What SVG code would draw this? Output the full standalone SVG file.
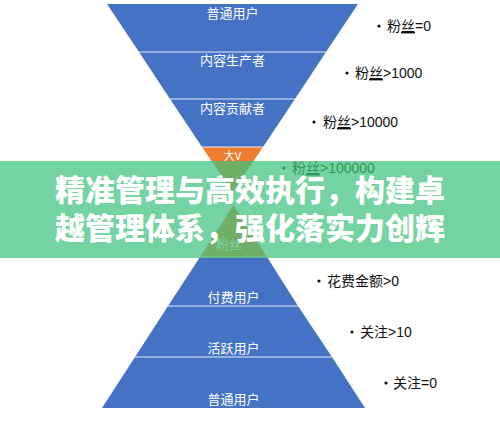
<svg xmlns="http://www.w3.org/2000/svg" width="500" height="421" viewBox="0 0 500 421">
  <style>
    .blue { fill: #4472C4; }
    .orange { fill: #ED7D31; }
    .div { stroke: #ffffff; stroke-width: 1.2; opacity: 0.85; }
    .lbl { font-family: "Noto Sans CJK SC", "Noto Sans", sans-serif; font-size: 13px; fill: #ffffff; text-anchor: middle; }
    .note { font-family: "Liberation Sans", "Noto Sans CJK SC", sans-serif; font-size: 14px; fill: #111111; }
    .dot { fill: #111111; }
    .banner { font-family: "Noto Sans CJK SC", "Noto Sans", sans-serif; font-size: 30px; font-weight: 900; fill: #ffffff; text-anchor: middle; }
  </style>
  <rect width="500" height="421" fill="#ffffff"/>

  <!-- Top funnel -->
  <g id="funnel-tier1">
    <polygon class="blue" points="107,4 358,4 326,52 139,52"/>
    <text class="lbl" x="232.5" y="18">普通用户</text>
  </g>
  <g id="funnel-tier2">
    <polygon class="blue" points="139,52 326,52 295,99 170,99"/>
    <text class="lbl" x="232.5" y="65">内容生产者</text>
  </g>
  <g id="funnel-tier3">
    <polygon class="blue" points="170,99 295,99 263,147 202,147"/>
    <text class="lbl" x="232.5" y="113">内容贡献者</text>
  </g>
  <g id="funnel-tier4">
    <polygon class="orange" points="202,147 263,147 232.5,192"/>
    <text class="lbl" x="232.5" y="160" style="font-size:11px">大V</text>
  </g>

  <!-- Bottom pyramid -->
  <g id="pyramid-tier0">
    <polygon class="orange" points="233.5,205 267,257 200,257"/>
    <text class="lbl" x="229" y="249">粉丝</text>
  </g>
  <g id="pyramid-tier1">
    <polygon class="blue" points="200,257 267,257 298,306 168,306"/>
    <text class="lbl" x="233.5" y="302">付费用户</text>
  </g>
  <g id="pyramid-tier2">
    <polygon class="blue" points="168,306 298,306 332,357 135,357"/>
    <text class="lbl" x="233.5" y="353">活跃用户</text>
  </g>
  <g id="pyramid-tier3">
    <polygon class="blue" points="135,357 332,357 365,408 102,408"/>
    <text class="lbl" x="233.5" y="404">普通用户</text>
  </g>

  <!-- Divider lines -->
  <g id="connectors">
    <line class="div" x1="139" y1="52" x2="326" y2="52"/>
    <line class="div" x1="170" y1="99" x2="295" y2="99"/>
    <line class="div" x1="202" y1="147" x2="263" y2="147"/>
    <line class="div" x1="200" y1="257" x2="267" y2="257"/>
    <line class="div" x1="168" y1="306" x2="298" y2="306"/>
    <line class="div" x1="135" y1="357" x2="332" y2="357"/>
  </g>

  <!-- Right-side notes -->
  <g id="note1">
    <circle class="dot" cx="379" cy="26" r="1.6"/>
    <text class="note" x="387" y="31">粉<tspan text-decoration="underline">丝</tspan>=0</text>
  </g>
  <g id="note2">
    <circle class="dot" cx="347" cy="73" r="1.6"/>
    <text class="note" x="355" y="78">粉<tspan text-decoration="underline">丝</tspan>&gt;1000</text>
  </g>
  <g id="note3">
    <circle class="dot" cx="314" cy="122" r="1.6"/>
    <text class="note" x="323" y="127">粉<tspan text-decoration="underline">丝</tspan>&gt;10000</text>
  </g>
  <g id="note4">
    <circle class="dot" cx="284" cy="168" r="1.6"/>
    <text class="note" x="292" y="173">粉<tspan text-decoration="underline">丝</tspan>&gt;100000</text>
  </g>
  <g id="note5">
    <circle class="dot" cx="319" cy="281" r="1.6"/>
    <text class="note" x="327" y="286">花费金额&gt;0</text>
  </g>
  <g id="note6">
    <circle class="dot" cx="352" cy="332" r="1.6"/>
    <text class="note" x="360" y="337">关注&gt;10</text>
  </g>
  <g id="note7">
    <circle class="dot" cx="386" cy="383" r="1.6"/>
    <text class="note" x="393" y="388">关注=0</text>
  </g>

  <!-- Overlay banner -->
  <g id="banner">
    <rect x="0" y="161" width="500" height="97" fill="#3fc27e" fill-opacity="0.72"/>
    <text class="banner" x="250" y="201">精准管理与高效执行，构建卓</text>
    <text class="banner" x="250" y="239">越管理体系，强化落实力创辉</text>
  </g>
</svg>
